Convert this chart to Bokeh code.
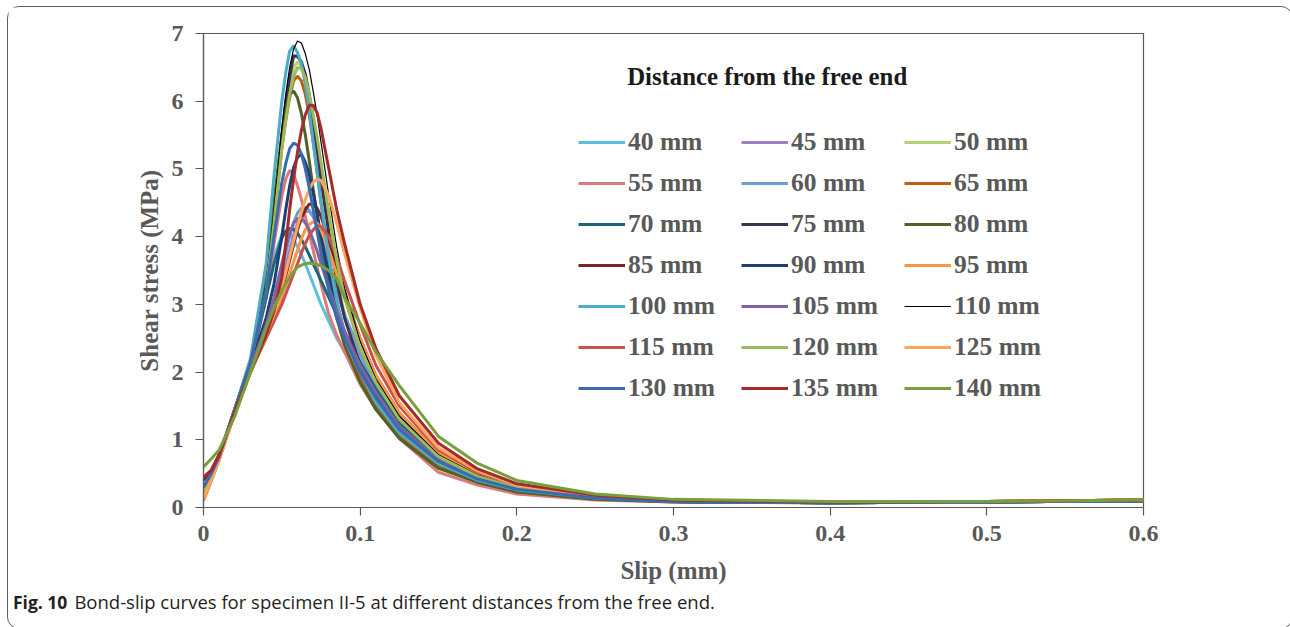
from bokeh.plotting import figure
from bokeh.layouts import column
from bokeh.models import Legend, LegendItem, Label, FixedTicker, Range1d, Div
from bokeh.embed import file_html
from bokeh.resources import INLINE

# ---- data ----
slip = [0, 0.005, 0.01, 0.02, 0.03, 0.04, 0.045, 0.05, 0.0525, 0.055, 0.0575, 0.06, 0.0625,
        0.065, 0.0675, 0.07, 0.0725, 0.075, 0.08, 0.085, 0.09, 0.1, 0.11, 0.125, 0.15,
        0.175, 0.2, 0.25, 0.3, 0.4, 0.5, 0.6]

labels = ["40 mm", "45 mm", "50 mm", "55 mm", "60 mm", "65 mm", "70 mm", "75 mm", "80 mm",
          "85 mm", "90 mm", "95 mm", "100 mm", "105 mm", "110 mm", "115 mm", "120 mm",
          "125 mm", "130 mm", "135 mm", "140 mm"]

colors = ["#5BC0DE", "#9E80C6", "#B5D36E", "#DB7A78", "#6C9ED6", "#C55A11", "#1F6478",
          "#3F3151", "#4F6228", "#7B2425", "#1F3F73", "#F79646", "#4BACC6", "#8064A2",
          "#000000", "#C8504D", "#9BBB59", "#FAA65E", "#3A6AB0", "#A52A2A", "#77A03C"]

s40 = [0.2, 0.45, 0.72, 1.45, 2.15, 3.2, 3.7, 4.03, 4.08, 4.04, 3.96, 3.85, 3.73, 3.6, 3.45, 3.3, 3.15, 3.0, 2.75, 2.5, 2.3, 1.9, 1.55, 1.1, 0.62, 0.38, 0.24, 0.13, 0.09, 0.07, 0.08, 0.1]
s45 = [0.15, 0.45, 0.72, 1.42, 2.05, 2.6, 2.9, 3.3, 3.56, 3.8, 4.02, 4.2, 4.31, 4.37, 4.37, 4.3, 4.17, 4.0, 3.6, 3.2, 2.85, 2.3, 1.85, 1.35, 0.8, 0.5, 0.3, 0.15, 0.1, 0.08, 0.09, 0.11]
s50 = [0.25, 0.45, 0.72, 1.45, 2.15, 3.3, 4.3, 5.4, 5.87, 6.25, 6.5, 6.58, 6.52, 6.35, 6.05, 5.7, 5.3, 4.9, 4.1, 3.4, 2.85, 2.1, 1.65, 1.15, 0.68, 0.43, 0.27, 0.14, 0.09, 0.07, 0.08, 0.1]
s55 = [0.1, 0.4, 0.7, 1.42, 2.1, 3.1, 3.9, 4.6, 4.85, 4.98, 4.92, 4.75, 4.55, 4.3, 4.05, 3.8, 3.55, 3.3, 2.85, 2.55, 2.3, 1.82, 1.45, 1.02, 0.52, 0.33, 0.2, 0.11, 0.08, 0.07, 0.08, 0.1]
s60 = [0.25, 0.45, 0.72, 1.42, 2.05, 2.65, 3.0, 3.5, 3.76, 4.0, 4.2, 4.35, 4.42, 4.43, 4.39, 4.3, 4.17, 4.0, 3.6, 3.2, 2.85, 2.25, 1.8, 1.3, 0.75, 0.46, 0.29, 0.15, 0.1, 0.08, 0.09, 0.11]
s65 = [0.2, 0.45, 0.72, 1.45, 2.15, 3.2, 4.2, 5.3, 5.72, 6.05, 6.3, 6.37, 6.3, 6.1, 5.8, 5.4, 4.96, 4.5, 3.7, 3.05, 2.55, 1.95, 1.5, 1.05, 0.6, 0.38, 0.24, 0.13, 0.09, 0.07, 0.08, 0.1]
s70 = [0.3, 0.5, 0.75, 1.45, 2.1, 3.1, 3.6, 3.98, 4.08, 4.12, 4.11, 4.05, 3.96, 3.85, 3.73, 3.6, 3.48, 3.35, 3.1, 2.85, 2.6, 2.15, 1.75, 1.25, 0.72, 0.45, 0.28, 0.14, 0.09, 0.07, 0.08, 0.1]
s75 = [0.25, 0.45, 0.72, 1.45, 2.15, 3.3, 4.4, 5.5, 5.98, 6.35, 6.67, 6.66, 6.58, 6.4, 6.1, 5.7, 5.28, 4.85, 4.05, 3.35, 2.8, 2.1, 1.65, 1.15, 0.68, 0.42, 0.27, 0.14, 0.09, 0.07, 0.08, 0.1]
s80 = [0.3, 0.5, 0.75, 1.45, 2.15, 3.4, 4.5, 5.5, 5.85, 6.1, 6.15, 6.05, 5.82, 5.5, 5.12, 4.7, 4.32, 3.95, 3.3, 2.8, 2.4, 1.85, 1.45, 1.02, 0.58, 0.37, 0.23, 0.12, 0.08, 0.07, 0.08, 0.1]
s85 = [0.4, 0.55, 0.78, 1.45, 2.05, 2.6, 2.85, 3.2, 3.42, 3.65, 3.88, 4.1, 4.27, 4.4, 4.48, 4.48, 4.42, 4.3, 3.95, 3.55, 3.15, 2.5, 1.95, 1.4, 0.8, 0.5, 0.31, 0.16, 0.1, 0.08, 0.09, 0.11]
s90 = [0.25, 0.45, 0.72, 1.45, 2.1, 2.8, 3.3, 4.0, 4.4, 4.75, 5.02, 5.17, 5.22, 5.1, 4.92, 4.65, 4.35, 4.0, 3.45, 2.95, 2.6, 2.05, 1.65, 1.15, 0.68, 0.42, 0.27, 0.14, 0.09, 0.07, 0.08, 0.1]
s95 = [0.1, 0.4, 0.7, 1.4, 2.0, 2.55, 2.8, 3.1, 3.27, 3.45, 3.63, 3.8, 3.97, 4.1, 4.18, 4.22, 4.2, 4.1, 3.8, 3.45, 3.1, 2.5, 1.95, 1.4, 0.8, 0.5, 0.31, 0.16, 0.1, 0.08, 0.09, 0.11]
s100 = [0.3, 0.5, 0.75, 1.45, 2.2, 3.6, 4.9, 6.0, 6.42, 6.74, 6.82, 6.72, 6.55, 6.25, 5.87, 5.4, 4.95, 4.5, 3.7, 3.05, 2.6, 2.0, 1.55, 1.1, 0.65, 0.4, 0.26, 0.14, 0.09, 0.07, 0.08, 0.1]
s105 = [0.2, 0.45, 0.72, 1.42, 2.05, 2.7, 3.1, 3.6, 3.84, 4.05, 4.2, 4.26, 4.28, 4.2, 4.1, 3.95, 3.79, 3.6, 3.25, 2.9, 2.6, 2.1, 1.7, 1.2, 0.7, 0.44, 0.28, 0.15, 0.1, 0.08, 0.09, 0.11]
s110 = [0.3, 0.5, 0.75, 1.45, 2.15, 3.3, 4.4, 5.6, 6.1, 6.5, 6.77, 6.89, 6.86, 6.7, 6.47, 6.15, 5.8, 5.4, 4.6, 3.85, 3.25, 2.45, 1.9, 1.35, 0.78, 0.48, 0.3, 0.15, 0.1, 0.08, 0.09, 0.11]
s115 = [0.2, 0.45, 0.72, 1.4, 2.0, 2.5, 2.75, 3.0, 3.15, 3.3, 3.45, 3.6, 3.76, 3.9, 4.02, 4.1, 4.16, 4.15, 4.0, 3.7, 3.35, 2.7, 2.1, 1.5, 0.85, 0.52, 0.33, 0.17, 0.1, 0.08, 0.09, 0.11]
s120 = [0.25, 0.45, 0.72, 1.45, 2.15, 3.2, 4.2, 5.3, 5.72, 6.1, 6.36, 6.5, 6.48, 6.35, 6.1, 5.8, 5.47, 5.1, 4.35, 3.65, 3.1, 2.35, 1.85, 1.3, 0.75, 0.46, 0.29, 0.15, 0.1, 0.08, 0.09, 0.11]
s125 = [0.15, 0.42, 0.7, 1.4, 2.0, 2.55, 2.85, 3.25, 3.47, 3.7, 3.93, 4.15, 4.36, 4.55, 4.7, 4.8, 4.85, 4.83, 4.6, 4.2, 3.75, 2.95, 2.25, 1.55, 0.88, 0.54, 0.33, 0.17, 0.1, 0.08, 0.09, 0.11]
s130 = [0.3, 0.5, 0.75, 1.45, 2.15, 3.2, 4.0, 4.8, 5.08, 5.3, 5.38, 5.35, 5.22, 5.0, 4.72, 4.4, 4.08, 3.75, 3.2, 2.8, 2.5, 2.0, 1.62, 1.15, 0.68, 0.42, 0.27, 0.14, 0.09, 0.07, 0.08, 0.1]
s135 = [0.45, 0.55, 0.78, 1.42, 2.0, 2.55, 2.9, 3.4, 3.9, 4.4, 4.85, 5.25, 5.57, 5.8, 5.94, 5.94, 5.83, 5.6, 5.0, 4.4, 3.9, 3.0, 2.35, 1.65, 0.95, 0.57, 0.35, 0.18, 0.11, 0.08, 0.09, 0.11]
s140 = [0.6, 0.72, 0.85, 1.35, 2.0, 2.65, 2.95, 3.2, 3.31, 3.4, 3.48, 3.55, 3.58, 3.6, 3.61, 3.6, 3.59, 3.57, 3.5, 3.38, 3.1, 2.72, 2.3, 1.8, 1.05, 0.65, 0.4, 0.2, 0.12, 0.09, 0.09, 0.11]

series = [s40, s45, s50, s55, s60, s65, s70, s75, s80, s85, s90, s95, s100, s105,
          s110, s115, s120, s125, s130, s135, s140]

x_ticks = [0, 0.1, 0.2, 0.3, 0.4, 0.5, 0.6]
y_ticks = [0, 1, 2, 3, 4, 5, 6, 7]

TXT = "#595959"
SERIF = "Liberation Serif"

# figure sits inside a rounded border (page offset: left 8.5, top 7.5)
p = figure(width=1274, height=585, output_backend="svg", toolbar_location=None,
           x_range=Range1d(0, 0.6), y_range=Range1d(0, 7),
           min_border_left=195, min_border_right=139, min_border_top=26, min_border_bottom=85)
p.xgrid.visible = False
p.ygrid.visible = False
p.outline_line_color = TXT
p.outline_line_width = 1.2

renderers = {}
for lab, col, ys in zip(labels, colors, series):
    lw = 1.2 if col == "#000000" else 3
    renderers[lab] = p.line(slip, ys, line_color=col, line_width=lw)

for ax in (p.xaxis[0], p.yaxis[0]):
    ax.axis_line_color = TXT
    ax.axis_line_width = 1.2
    ax.major_tick_line_color = TXT
    ax.major_tick_line_width = 1.2
    ax.minor_tick_line_color = None
    ax.major_tick_in = 0
    ax.major_tick_out = 8
    ax.major_label_text_font = SERIF
    ax.major_label_text_font_style = "bold"
    ax.major_label_text_font_size = "24px"
    ax.major_label_text_color = TXT
    ax.axis_label_text_font = SERIF
    ax.axis_label_text_font_style = "bold"
    ax.axis_label_text_color = TXT

p.xaxis.ticker = FixedTicker(ticks=x_ticks)
p.yaxis.ticker = FixedTicker(ticks=y_ticks)
p.xaxis.major_label_overrides = {0: "0"}
p.xaxis.axis_label = "Slip (mm)"
p.yaxis.axis_label = "Shear stress (MPa)"
p.xaxis.axis_label_text_font_size = "25px"
p.yaxis.axis_label_text_font_size = "25px"
p.xaxis.major_label_standoff = 10
p.yaxis.major_label_standoff = 12
p.xaxis.axis_label_standoff = 13
p.yaxis.axis_label_standoff = 6

# legend: 3 columns, filled row by row
order = [labels[3 * r + c] for c in range(3) for r in range(7)]
legend = Legend(items=[LegendItem(label=l, renderers=[renderers[l]]) for l in order],
                ncols=3, location=(375, 100),
                glyph_width=47, glyph_height=38, label_height=38, label_width=110,
                label_standoff=3, spacing=3, padding=0, margin=0,
                border_line_color=None, background_fill_alpha=0,
                label_text_font=SERIF, label_text_font_style="bold",
                label_text_font_size="25.5px", label_text_color=TXT)
p.add_layout(legend, "center")

p.add_layout(Label(x=0.2704, y=6.36, text="Distance from the free end",
                   text_font=SERIF, text_font_style="bold", text_font_size="24.8px",
                   text_color="#1a1a1a", text_baseline="middle"))

caption = Div(
    text=('<span style="font-weight:bold;font-size:17.5px">Fig. 10</span>'
          '<span style="margin-left:7px">Bond-slip curves for specimen II-5 at different '
          'distances from the free end.</span>'),
    width=1274, height=34,
    styles={"font-family": "Open Sans", "font-size": "18.5px", "color": "#231f20",
            "padding-left": "0px", "margin-top": "-3px", "white-space": "nowrap"})

layout = column(p, caption, margin=(6, 0, 0, 7), spacing=0,
                styles={"border": "1.5px solid #5f5f5f", "border-radius": "12px"})

open("out.html", "w").write(file_html(layout, INLINE))
